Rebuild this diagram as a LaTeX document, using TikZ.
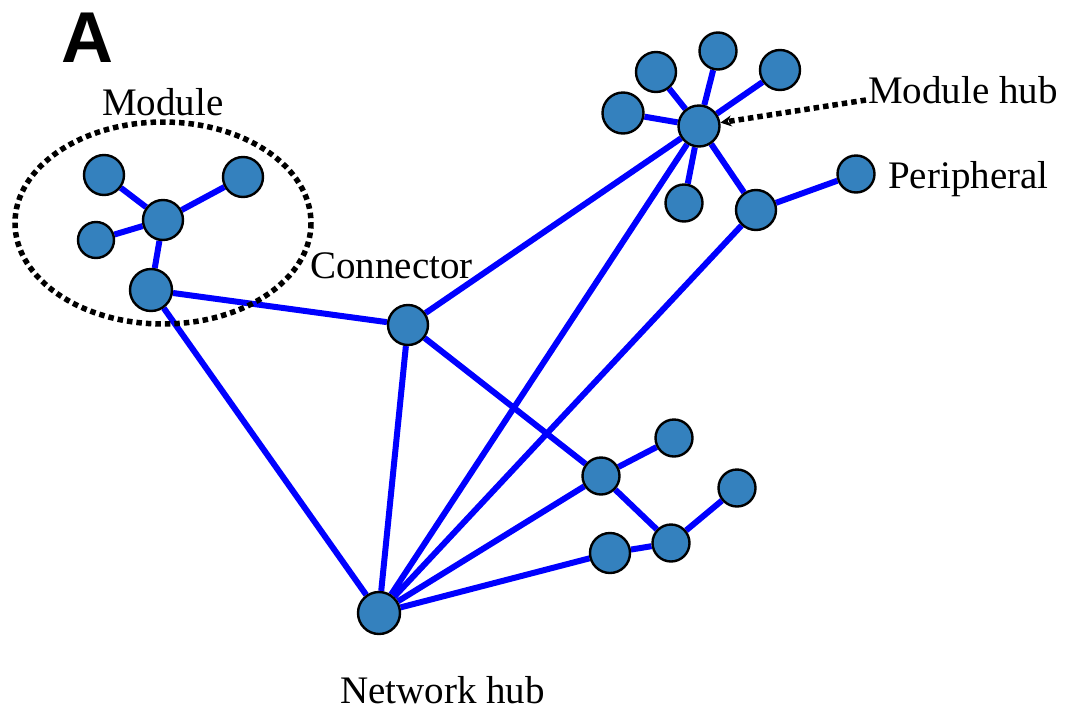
\documentclass[tikz,border=0pt]{standalone}
\usepackage{fontspec}
\setmainfont{Liberation Serif}
\newfontfamily\panelfont{Liberation Sans}
\usetikzlibrary{arrows.meta,backgrounds}
\definecolor{nodefill}{RGB}{52,129,190}
\definecolor{linkblue}{RGB}{0,0,255}
\begin{document}
\begin{tikzpicture}[x=1pt,y=-1pt,
  vertex/.style={circle,draw=black,line width=2.4pt,fill=nodefill,minimum size=40pt,inner sep=0pt},
  small/.style={minimum size=37pt},
  link/.style={draw=linkblue,line width=6pt},
  dotline/.style={draw=black,line width=5.5pt,dash pattern=on 5.5pt off 4pt},
  lbl/.style={font=\fontsize{39}{41}\selectfont,inner sep=0pt,anchor=base west},
  ]
\useasboundingbox (0,0) rectangle (1066,710);

% panel letter
\node[inner sep=0pt,anchor=base west,font=\panelfont\bfseries\fontsize{72}{72}\selectfont] (panel) at (61,62) {A};

% module on the left
\node[vertex] (m1) at (104,175) {};
\node[vertex] (m2) at (243,177) {};
\node[vertex] (mc) at (163,220) {};
\node[vertex,minimum size=36pt] (m3) at (96,240) {};
\node[vertex,minimum size=42pt] (c1) at (151,290) {};

% connector
\node[vertex] (conn) at (408,325) {};

% module with its hub at the top right
\node[vertex,minimum size=41pt] (hub) at (699,126) {};
\node[vertex,minimum size=41pt] (p1) at (623,113) {};
\node[vertex] (p2) at (656,72) {};
\node[vertex,small] (p3) at (718,51) {};
\node[vertex] (p4) at (780,70) {};
\node[vertex,small] (p5) at (684,203) {};
\node[vertex] (p6) at (756,210) {};
\node[vertex,small] (per) at (856,174) {};

% module at the bottom right
\node[vertex,small] (b1) at (601,476) {};
\node[vertex,small] (b2) at (674,438) {};
\node[vertex,small] (b3) at (737,488) {};
\node[vertex,small] (b4) at (671,543) {};
\node[vertex] (b5) at (610,553) {};

% network hub
\node[vertex,minimum size=42pt] (nh) at (379,613) {};

% links
\begin{scope}[on background layer]
  \path[link] (m1) -- (mc) (m2) -- (mc) (m3) -- (mc) (mc) -- (c1);
  \path[link] (c1) -- (conn) (c1) -- (nh);
  \path[link] (conn) -- (hub) (conn) -- (nh) (conn) -- (b1);
  \path[link] (nh) -- (hub) (nh) -- (p6) (nh) -- (b1) (nh) -- (b5);
  \path[link] (hub) -- (p1) (hub) -- (p2) (hub) -- (p3) (hub) -- (p4)
              (hub) -- (p5) (hub) -- (p6) (p6) -- (per);
  \path[link] (b1) -- (b2) (b1) -- (b4) (b4) -- (b3) (b4) -- (b5);
\end{scope}

% module outline
\draw[dotline] (163,223) ellipse [x radius=148, y radius=101];

% labels
\node[lbl] (lmod) at (102,115) {Module};
\node[lbl] (lconn) at (310,278) {Connector};
\node[lbl] (lhub) at (868,103) {Module hub};
\node[lbl] (lper) at (888,188) {Peripheral};
\node[lbl] (lnh) at (340,703) {Network hub};

% pointer to the module hub
\coordinate (mhtail) at (866,100);
\draw[dotline,-{Stealth[length=11pt,width=11pt]}] (mhtail) -- (hub);
\end{tikzpicture}
\end{document}
